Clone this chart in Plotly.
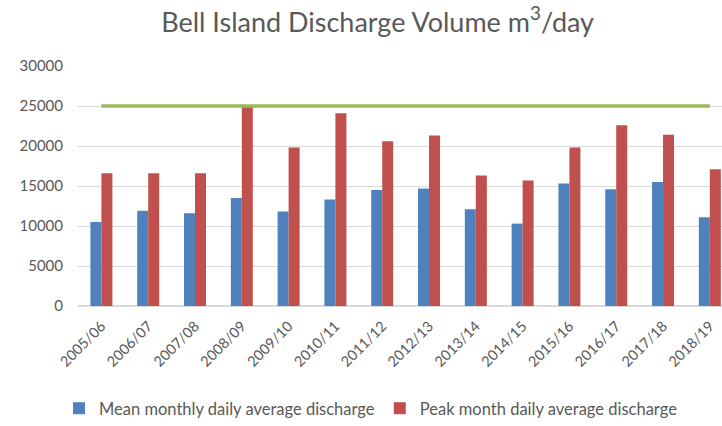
import plotly.graph_objects as go

years = ["2005/06", "2006/07", "2007/08", "2008/09", "2009/10", "2010/11", "2011/12",
         "2012/13", "2013/14", "2014/15", "2015/16", "2016/17", "2017/18", "2018/19"]
mean_monthly = [10500, 11900, 11600, 13500, 11800, 13300, 14500,
                14700, 12100, 10300, 15300, 14600, 15500, 11100]
peak_month = [16600, 16600, 16600, 24900, 19800, 24100, 20600,
              21300, 16300, 15700, 19800, 22600, 21400, 17100]
limit = [25000] * len(years)

fig = go.Figure()
fig.add_trace(go.Bar(x=years, y=mean_monthly, name="Mean monthly daily average discharge",
                     marker=dict(color="#4f81bd", line=dict(width=0))))
fig.add_trace(go.Bar(x=years, y=peak_month, name="Peak month daily average discharge",
                     marker=dict(color="#c0504d", line=dict(width=0))))
fig.add_trace(go.Scatter(x=years, y=limit, mode="lines", showlegend=False,
                         line=dict(color="#9bbb59", width=3.5)))

fig.update_layout(
    width=722, height=426,
    margin=dict(l=78, r=0, t=66, b=120),
    paper_bgcolor="white", plot_bgcolor="white",
    font=dict(family="Lato, Open Sans, sans-serif", color="#595959", size=14),
    title=dict(text="Bell Island Discharge Volume m<sup>3</sup>/day",
               x=0.523, xanchor="center", y=0.948, yanchor="middle",
               font=dict(size=27, color="#595959")),
    barmode="group", bargap=0.53, bargroupgap=0,
    showlegend=True,
    legend=dict(orientation="h", x=0.455, xanchor="center", y=-0.43, yanchor="middle",
                font=dict(size=16.5, color="#595959"), itemwidth=30, traceorder="normal"),
    xaxis=dict(range=[-0.5, 13.26], tickangle=-45, showgrid=False, zeroline=False,
               showline=False, ticks="", ticklabelstandoff=8,
               tickfont=dict(size=14.5, color="#595959")),
    yaxis=dict(range=[0, 30000], dtick=5000, tickformat="d", showgrid=True,
               gridcolor="#d9d9d9", gridwidth=1, zeroline=True, zerolinecolor="#d9d9d9",
               showline=False, ticks="", ticklen=0,
               tickfont=dict(size=15, color="#595959"), ticklabelstandoff=14),
)

fig.write_html("out.html")
